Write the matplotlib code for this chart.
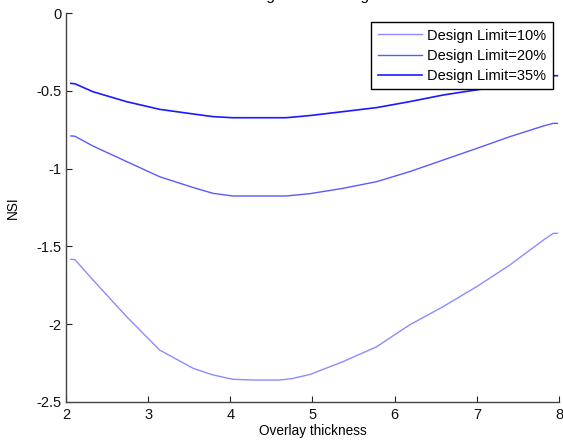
import matplotlib
matplotlib.use('Agg')
import matplotlib.pyplot as plt
import numpy as np

plt.rcParams['font.family'] = ['Liberation Sans', 'DejaVu Sans']
plt.rcParams['font.size'] = 10.5

#%% data
x_10 = [2.06, 2.11, 2.33, 2.74, 3.14, 3.55, 3.79, 4.03, 4.3, 4.6, 4.75, 4.97, 5.37, 5.78, 6.18, 6.59, 7.0, 7.4, 7.81, 7.93, 7.98]
nsi_10 = [-1.583, -1.585, -1.716, -1.952, -2.166, -2.284, -2.326, -2.354, -2.359, -2.359, -2.35, -2.323, -2.241, -2.145, -2.005, -1.887, -1.758, -1.62, -1.459, -1.416, -1.416]

x_20 = [2.06, 2.11, 2.33, 2.74, 3.14, 3.55, 3.79, 4.03, 4.68, 4.97, 5.37, 5.78, 6.18, 6.59, 7.0, 7.4, 7.81, 7.93, 7.98]
nsi_20 = [-0.79, -0.792, -0.855, -0.955, -1.052, -1.122, -1.159, -1.176, -1.176, -1.161, -1.127, -1.084, -1.02, -0.945, -0.87, -0.795, -0.726, -0.709, -0.709]

x_35 = [2.06, 2.11, 2.33, 2.74, 3.14, 3.55, 3.79, 4.03, 4.68, 4.97, 5.37, 5.78, 6.18, 6.59, 7.07, 7.5, 7.93, 7.98]
nsi_35 = [-0.452, -0.455, -0.506, -0.57, -0.619, -0.649, -0.666, -0.673, -0.673, -0.659, -0.634, -0.608, -0.57, -0.527, -0.488, -0.445, -0.403, -0.403]

labels = ['Design Limit=10%', 'Design Limit=20%', 'Design Limit=35%']
x_ticks = [2, 3, 4, 5, 6, 7, 8]
y_ticks = [-2.5, -2, -1.5, -1, -0.5, 0]
y_ticklabels = ['-2.5', '-2', '-1.5', '-1', '-0.5', '0']

#%% plot
fig = plt.figure(figsize=(5.63, 4.47), dpi=100)
axs = fig.add_axes([0.117, 0.1007, 0.876, 0.8702])

axs.plot(x_10, nsi_10, color='#8c8cff', lw=1.0, label=labels[0])
axs.plot(x_20, nsi_20, color='#5a5aff', lw=1.0, label=labels[1])
axs.plot(x_35, nsi_35, color='#1a1aff', lw=1.2, label=labels[2])

axs.set_xlim(2, 8)
axs.set_ylim(-2.5, 0)
axs.set_xticks(x_ticks)
axs.set_yticks(y_ticks)
axs.set_yticklabels(y_ticklabels)

for side in ['top', 'right']:
    axs.spines[side].set_visible(False)
for side in ['left', 'bottom']:
    axs.spines[side].set_color('#444444')
    axs.spines[side].set_linewidth(1.0)

axs.tick_params(direction='in', length=4, width=0.8, color='#222222', labelcolor='#111111', pad=3)
axs.tick_params(axis='x', pad=4)

axs.set_xlabel('Overlay thickness', fontsize=9.8, labelpad=2)
axs.set_ylabel('NSI', fontsize=9.8, labelpad=12)

leg = axs.legend(loc='upper right', bbox_to_anchor=(0.988, 0.977), fancybox=False,
                 framealpha=1, edgecolor='black', handlelength=3.0,
                 borderpad=0.45, labelspacing=0.42, handletextpad=0.4, borderaxespad=0)
leg.get_frame().set_linewidth(1.0)

# title sits above the canvas, only its descenders show
fig.text(0.545, 1.0, 'Design Limit Change', ha='center', va='baseline', fontsize=11)

fig.savefig('out.png', dpi=100)
